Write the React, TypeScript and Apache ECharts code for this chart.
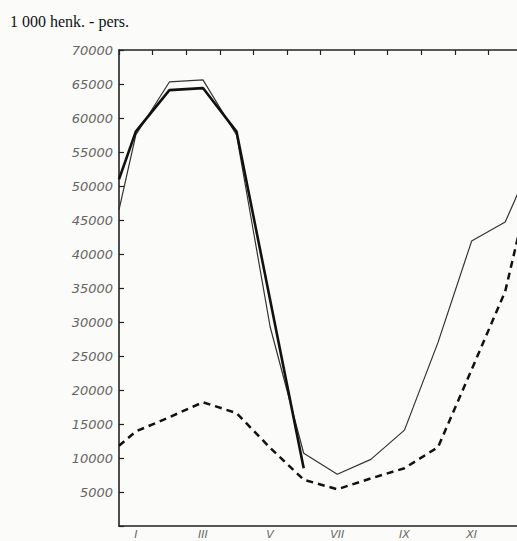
import React, { useEffect, useRef } from "react";
import * as echarts from "echarts";

const months = ["I", "II", "III", "IV", "V", "VI", "VII", "VIII", "IX", "X", "XI", "XII"];
const yTickValues = [5000, 10000, 15000, 20000, 25000, 30000, 35000, 40000, 45000, 50000, 55000, 60000, 65000, 70000];

// x positions in month units (0 = start of I, 0.5 = middle of I, ...)
const thinX = [0, 0.5, 1.5, 2.5, 3.5, 4.5, 5.5, 6.5, 7.5, 8.5, 9.5, 10.5, 11.5, 12];
const thinY = [46500, 57500, 65300, 65600, 57500, 29300, 10700, 7600, 9800, 14100, 27000, 41900, 44700, 50300];

const thickX = [0, 0.5, 1.5, 2.5, 3.5, 5.5];
const thickY = [51000, 58000, 64100, 64400, 58000, 8500];

const dashX = [0, 0.5, 1.5, 2.5, 3.5, 4.5, 5.5, 6.5, 7.5, 8.5, 9.5, 10.5, 11.5, 12];
const dashY = [11800, 13900, 16000, 18200, 16600, 11500, 6800, 5400, 7000, 8500, 11600, 23000, 34500, 45000];

const pair = (xs: number[], ys: number[]) => xs.map((x, i) => [x, ys[i]]);

export default function App() {
  const ref = useRef<HTMLDivElement>(null);
  useEffect(() => {
    if (!ref.current) return;
    const chart = echarts.init(ref.current, undefined, { renderer: "svg" });
    const labelStyle = {
      fontFamily: "DejaVu Sans",
      fontStyle: "italic" as const,
      fontSize: 13,
      color: "#666",
    };
    chart.setOption({
      animation: false,
      backgroundColor: "#fbfbf9",
      title: {
        text: "1 000 henk. - pers.",
        left: 5,
        top: 8,
        textStyle: {
          fontFamily: "Liberation Serif",
          fontSize: 16,
          fontWeight: "normal",
          color: "#111",
        },
      },
      grid: { left: 119, top: 50, bottom: 15, right: -5, containLabel: false, outerBoundsMode: "none" },
      xAxis: [
        {
          type: "category",
          position: "bottom",
          data: months,
          boundaryGap: true,
          axisLine: { lineStyle: { color: "#222", width: 1.6 } },
          axisTick: { inside: true, length: 5, interval: 0, lineStyle: { color: "#222", width: 1.2 } },
          axisLabel: { ...labelStyle, fontSize: 11, lineHeight: 11, interval: 1, margin: 3 },
          splitLine: { show: false },
        },
        {
          type: "value",
          position: "top",
          min: 0,
          max: 12,
          interval: 1,
          axisLine: { show: true, lineStyle: { color: "#222", width: 1.6 } },
          axisTick: { show: true, inside: true, length: 5, lineStyle: { color: "#222", width: 1.2 } },
          axisLabel: { show: false },
          splitLine: { show: false },
        },
      ],
      yAxis: {
        type: "value",
        min: 0,
        max: 70000,
        interval: 5000,
        axisLine: { show: true, lineStyle: { color: "#222", width: 1.6 } },
        axisTick: { show: true, inside: true, length: 5, lineStyle: { color: "#222", width: 1.2 } },
        axisLabel: {
          ...labelStyle,
          margin: 6,
          formatter: (v: number) => (yTickValues.includes(v) ? String(v) : ""),
        },
        splitLine: { show: false },
      },
      series: [
        {
          type: "line",
          xAxisIndex: 1,
          data: pair(thinX, thinY),
          symbol: "none",
          lineStyle: { color: "#333", width: 1.2 },
        },
        {
          type: "line",
          xAxisIndex: 1,
          data: pair(thickX, thickY),
          symbol: "none",
          lineStyle: { color: "#111", width: 2.6 },
        },
        {
          type: "line",
          xAxisIndex: 1,
          data: pair(dashX, dashY),
          symbol: "none",
          lineStyle: { color: "#111", width: 2.5, type: [7, 5] },
        },
      ],
    });
    return () => chart.dispose();
  }, []);
  return (
    <div
      ref={ref}
      style={{ position: "absolute", left: 0, top: 0, width: 517, height: 541 }}
    />
  );
}
